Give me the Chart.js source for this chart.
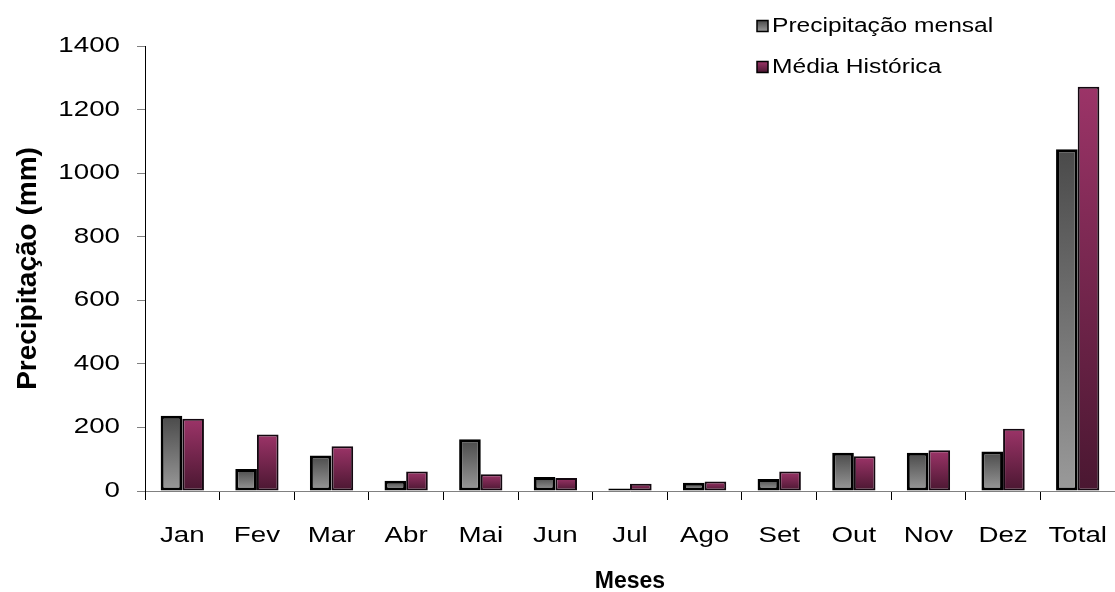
<!DOCTYPE html>
<html>
<head>
<meta charset="utf-8">
<script src="https://cdn.jsdelivr.net/npm/chart.js@4/dist/chart.umd.min.js"></script>
<style>
  body { margin: 0; background: #fff; }
</style>
</head>
<body>
<canvas id="graficoPrecipitacao" width="1115" height="592"></canvas>
<script>
// dados
const meses = ['Jan', 'Fev', 'Mar', 'Abr', 'Mai', 'Jun', 'Jul', 'Ago', 'Set', 'Out', 'Nov', 'Dez', 'Total'];
const precipitacaoMensal = [237, 69, 112, 32, 163, 44, 8, 26, 38, 120, 120, 124, 1075];
const mediaHistorica = [227, 178, 141, 61, 53, 41, 23, 30, 61, 109, 128, 196, 1272];
const ticksY = [0, 200, 400, 600, 800, 1000, 1200, 1400];

const coresCinza = ['#4a4a4a', '#9a9a9a'];
const coresRoxo = ['#9c3468', '#4a1731'];
const fonte = '"Liberation Sans", Arial, sans-serif';

// o texto normal do original é mais largo que o Arial: esticar na horizontal
// (os títulos em negrito ficam como estão)
const ESTICAR = 1.26;
const ctx = document.getElementById('graficoPrecipitacao').getContext('2d');
const fatorTexto = (c) => (/bold/.test(c.font) ? 1 : ESTICAR);
const fillTextOriginal = ctx.fillText;
ctx.fillText = function(texto, x, y, maxWidth) {
  const k = fatorTexto(this);
  this.save();
  this.translate(x, y);
  this.scale(k, 1);
  if (maxWidth === undefined) fillTextOriginal.call(this, texto, 0, 0);
  else fillTextOriginal.call(this, texto, 0, 0, maxWidth / k);
  this.restore();
};
const measureTextOriginal = ctx.measureText;
ctx.measureText = function(texto) {
  const k = fatorTexto(this);
  const m = measureTextOriginal.call(this, texto);
  return {
    width: m.width * k,
    actualBoundingBoxAscent: m.actualBoundingBoxAscent,
    actualBoundingBoxDescent: m.actualBoundingBoxDescent,
    actualBoundingBoxLeft: m.actualBoundingBoxLeft * k,
    actualBoundingBoxRight: m.actualBoundingBoxRight * k,
  };
};

// gradiente vertical em cada barra (topo -> base)
function gradiente(cores) {
  return function(context) {
    const chart = context.chart;
    if (!chart.chartArea || context.raw === undefined) return cores[0];
    const y = chart.scales.y;
    const topo = y.getPixelForValue(context.raw);
    const base = y.getPixelForValue(0);
    if (!isFinite(topo) || topo === base) return cores[0];
    const g = chart.ctx.createLinearGradient(0, topo, 0, base);
    g.addColorStop(0, cores[0]);
    g.addColorStop(1, cores[1]);
    return g;
  };
}

// legenda no canto superior direito, em coluna
const legendaCanto = {
  id: 'legendaCanto',
  afterDraw(chart) {
    const c = chart.ctx;
    c.save();
    c.font = '19.5px ' + fonte;
    c.textBaseline = 'middle';
    chart.data.datasets.forEach((ds, i) => {
      const cy = 26 + i * 41;
      const x = 757, lado = 11;
      const cores = i === 0 ? coresCinza : coresRoxo;
      const g = c.createLinearGradient(0, cy - lado / 2, 0, cy + lado / 2);
      g.addColorStop(0, cores[0]);
      g.addColorStop(1, cores[1]);
      c.fillStyle = g;
      c.fillRect(x, cy - lado / 2, lado, lado);
      c.lineWidth = 1.5;
      c.strokeStyle = '#000';
      c.strokeRect(x, cy - lado / 2, lado, lado);
      c.fillStyle = '#000';
      c.fillText(ds.label, x + 15, cy + 1);
    });
    c.restore();
  }
};

const myChart = new Chart(ctx, {
  type: 'bar',
  data: {
    labels: meses,
    datasets: [{
      label: 'Precipitação mensal',
      data: precipitacaoMensal,
      backgroundColor: gradiente(coresCinza),
      borderColor: '#000',
      borderWidth: 3,
      borderSkipped: false,
    }, {
      label: 'Média Histórica',
      data: mediaHistorica,
      backgroundColor: gradiente(coresRoxo),
      borderColor: '#140810',
      borderWidth: 2,
      borderSkipped: false,
    }],
  },
  options: {
    responsive: false,
    animation: false,
    layout: { padding: { top: 46, right: 0, left: 6, bottom: 0 } },
    datasets: {
      bar: { categoryPercentage: 0.58, barPercentage: 1.0 }
    },
    plugins: {
      legend: { display: false },
      tooltip: { enabled: false },
    },
    scales: {
      x: {
        afterFit: (axis) => {
          axis.height = 101;
          axis.paddingLeft = 0;
          axis.paddingRight = 0;
        },
        grid: { offset: true, drawOnChartArea: false, tickLength: 9, color: '#000' },
        border: { display: true, color: '#808080', width: 1 },
        ticks: {
          color: '#000',
          padding: 23,
          font: { family: fonte, size: 22 },
        },
        title: {
          display: true,
          text: 'Meses',
          color: '#000',
          padding: { top: 0, bottom: -3 },
          font: { family: fonte, size: 23, weight: 'bold' },
        },
      },
      y: {
        min: 0,
        max: 1400,
        afterBuildTicks: (axis) => { axis.ticks = ticksY.map(v => ({ value: v })); },
        afterFit: (axis) => { axis.width = 139; },
        grid: { drawOnChartArea: false, tickLength: 8, color: '#808080' },
        border: { display: true, color: '#000', width: 1 },
        ticks: {
          color: '#000',
          padding: 17,
          callback: (v) => String(v),
          font: { family: fonte, size: 22 },
        },
        title: {
          display: true,
          text: 'Precipitação (mm)',
          color: '#000',
          padding: { top: 5, bottom: 0 },
          font: { family: fonte, size: 28, weight: 'bold' },
        },
      },
    },
  },
  plugins: [legendaCanto],
});
</script>
</body>
</html>
